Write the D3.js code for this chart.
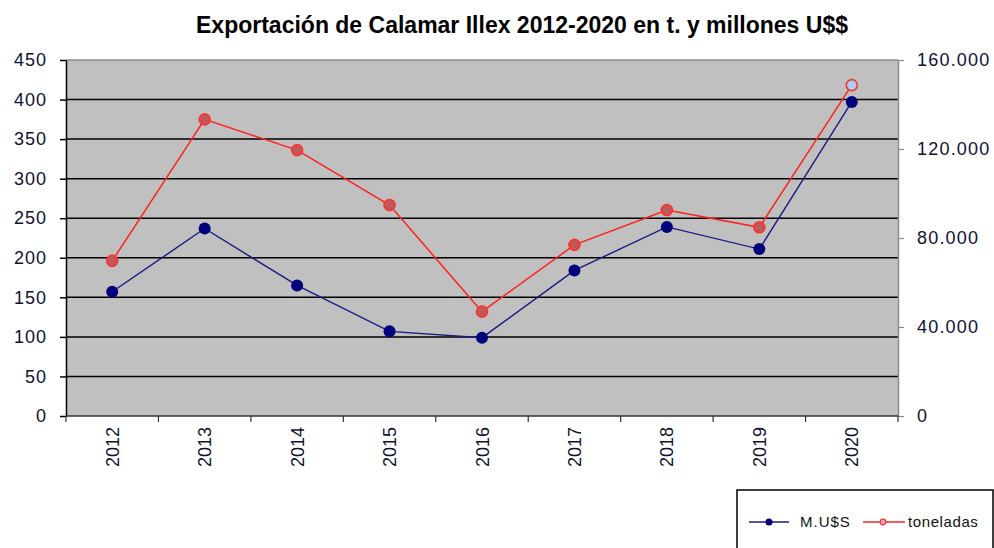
<!DOCTYPE html>
<html>
<head>
<meta charset="utf-8">
<script src="https://cdn.jsdelivr.net/npm/d3@7"></script>
<style>
  body { margin: 0; background: #fff; }
  text { font-family: "Liberation Sans", Arial, sans-serif; }
</style>
</head>
<body>
<div id="chart"></div>
<script>
// data
const years = ["2012", "2013", "2014", "2015", "2016", "2017", "2018", "2019", "2020"];
const musd = [157, 237, 165, 107, 99, 184, 239, 211, 397];
const toneladas = [69700, 133300, 119500, 94800, 46900, 76900, 92600, 84800, 148700];
const leftTicks = [0, 50, 100, 150, 200, 250, 300, 350, 400, 450];
const rightTicks = [0, 40000, 80000, 120000, 160000];
const chartTitle = "Exportación de Calamar Illex 2012-2020 en t. y millones U$$";
const legendNames = ["M.U$S", "toneladas"];

const width = 994, height = 548;
const plot = { left: 66, right: 898, top: 60, bottom: 416 };

const svg = d3.select("#chart").append("svg")
    .attr("width", width)
    .attr("height", height);

svg.append("rect").attr("width", width).attr("height", height).attr("fill", "#fff");

const x = d3.scaleBand().domain(years).range([plot.left, plot.right]);
const yL = d3.scaleLinear().domain([0, 450]).range([plot.bottom, plot.top]);
const yR = d3.scaleLinear().domain([0, 160000]).range([plot.bottom, plot.top]);
const cx = d => x(d) + x.bandwidth() / 2;

// plot area
svg.append("rect")
    .attr("x", plot.left).attr("y", plot.top)
    .attr("width", plot.right - plot.left).attr("height", plot.bottom - plot.top)
    .attr("fill", "#c0c0c0");

// gridlines
svg.selectAll("line.grid")
    .data(leftTicks.filter(t => t > 0 && t < 450))
    .enter().append("line")
    .attr("x1", plot.left).attr("x2", plot.right)
    .attr("y1", d => yL(d)).attr("y2", d => yL(d))
    .attr("stroke", "#000").attr("stroke-width", 1.5);

// top border gray
svg.append("line")
    .attr("x1", plot.left).attr("x2", plot.right)
    .attr("y1", plot.top).attr("y2", plot.top)
    .attr("stroke", "#8c8c8c").attr("stroke-width", 1.5);

// left axis
const axL = svg.append("g")
    .attr("transform", `translate(${plot.left},0)`)
    .call(d3.axisLeft(yL).tickValues(leftTicks).tickSize(6).tickPadding(13).tickSizeOuter(0));
axL.select(".domain").attr("stroke", "#000").attr("stroke-width", 1.5);
axL.selectAll(".tick line").attr("stroke", "#000").attr("stroke-width", 1.5);
axL.selectAll(".tick text").attr("font-size", 18).attr("fill", "#111133")
    .attr("letter-spacing", 1)
    .style("font-family", '"Liberation Sans", Arial, sans-serif');

// right axis
const loc = d3.formatLocale({ decimal: ",", thousands: ".", grouping: [3], currency: ["$", ""] });
const axR = svg.append("g")
    .attr("transform", `translate(${plot.right},0)`)
    .call(d3.axisRight(yR).tickValues(rightTicks).tickSize(6).tickPadding(13).tickSizeOuter(0)
        .tickFormat(loc.format(",d")));
axR.select(".domain").attr("stroke", "#8c8c8c").attr("stroke-width", 1.5);
axR.selectAll(".tick line").attr("stroke", "#8c8c8c").attr("stroke-width", 1.2);
axR.selectAll(".tick text").attr("font-size", 18).attr("fill", "#111133")
    .attr("letter-spacing", 1.2)
    .style("font-family", '"Liberation Sans", Arial, sans-serif');

// bottom axis
svg.append("line")
    .attr("x1", plot.left).attr("x2", plot.right)
    .attr("y1", plot.bottom).attr("y2", plot.bottom)
    .attr("stroke", "#333").attr("stroke-width", 1.5);
const bounds = years.map(d => x(d)).concat([plot.right]);
svg.selectAll("line.xt")
    .data(bounds)
    .enter().append("line")
    .attr("x1", d => d).attr("x2", d => d)
    .attr("y1", plot.bottom).attr("y2", plot.bottom + 6)
    .attr("stroke", "#333").attr("stroke-width", 1.2);
svg.selectAll("text.xl")
    .data(years)
    .enter().append("text")
    .attr("transform", d => `translate(${cx(d) + 6.5},427) rotate(-90)`)
    .attr("text-anchor", "end")
    .attr("font-size", 18)
    .attr("fill", "#111133")
    .text(d => d);

// lines
const lineL = d3.line().x((d, i) => cx(years[i])).y(d => yL(d));
const lineR = d3.line().x((d, i) => cx(years[i])).y(d => yR(d));

svg.append("path").datum(musd)
    .attr("d", lineL).attr("fill", "none")
    .attr("stroke", "#1a1a80").attr("stroke-width", 1.4);
svg.append("path").datum(toneladas)
    .attr("d", lineR).attr("fill", "none")
    .attr("stroke", "#ff2020").attr("stroke-width", 1.5);

svg.selectAll("circle.b")
    .data(musd)
    .enter().append("circle")
    .attr("cx", (d, i) => cx(years[i])).attr("cy", d => yL(d))
    .attr("r", 6).attr("fill", "#00007a");

svg.selectAll("circle.r")
    .data(toneladas)
    .enter().append("circle")
    .attr("cx", (d, i) => cx(years[i])).attr("cy", d => yR(d))
    .attr("r", 5.5)
    .attr("fill", (d, i) => i === years.length - 1 ? "#a8d0f8" : "#c05858")
    .attr("stroke", "#ff3030").attr("stroke-width", 1.6);

// title
svg.append("text")
    .attr("x", 522).attr("y", 33)
    .attr("text-anchor", "middle")
    .attr("font-size", 23).attr("font-weight", "bold")
    .attr("fill", "#000")
    .text(chartTitle);

// legend
const lg = svg.append("g");
lg.append("rect")
    .attr("x", 737).attr("y", 490).attr("width", 256).attr("height", 70)
    .attr("fill", "#fff").attr("stroke", "#000").attr("stroke-width", 1.5);
lg.append("line").attr("x1", 749).attr("x2", 789).attr("y1", 522).attr("y2", 522)
    .attr("stroke", "#1a1a80").attr("stroke-width", 1.4);
lg.append("circle").attr("cx", 769).attr("cy", 522).attr("r", 3.5).attr("fill", "#00007a");
lg.append("text").attr("x", 800).attr("y", 527).attr("font-size", 15).attr("fill", "#111")
    .attr("letter-spacing", 1)
    .text(legendNames[0]);
lg.append("line").attr("x1", 863).attr("x2", 905).attr("y1", 522).attr("y2", 522)
    .attr("stroke", "#ff2020").attr("stroke-width", 1.4);
lg.append("circle").attr("cx", 883).attr("cy", 522).attr("r", 2.8)
    .attr("fill", "#d8a8c8").attr("stroke", "#ff3030").attr("stroke-width", 1.2);
lg.append("text").attr("x", 908).attr("y", 527).attr("font-size", 15).attr("fill", "#111")
    .attr("letter-spacing", 0.6)
    .text(legendNames[1]);
</script>
</body>
</html>
